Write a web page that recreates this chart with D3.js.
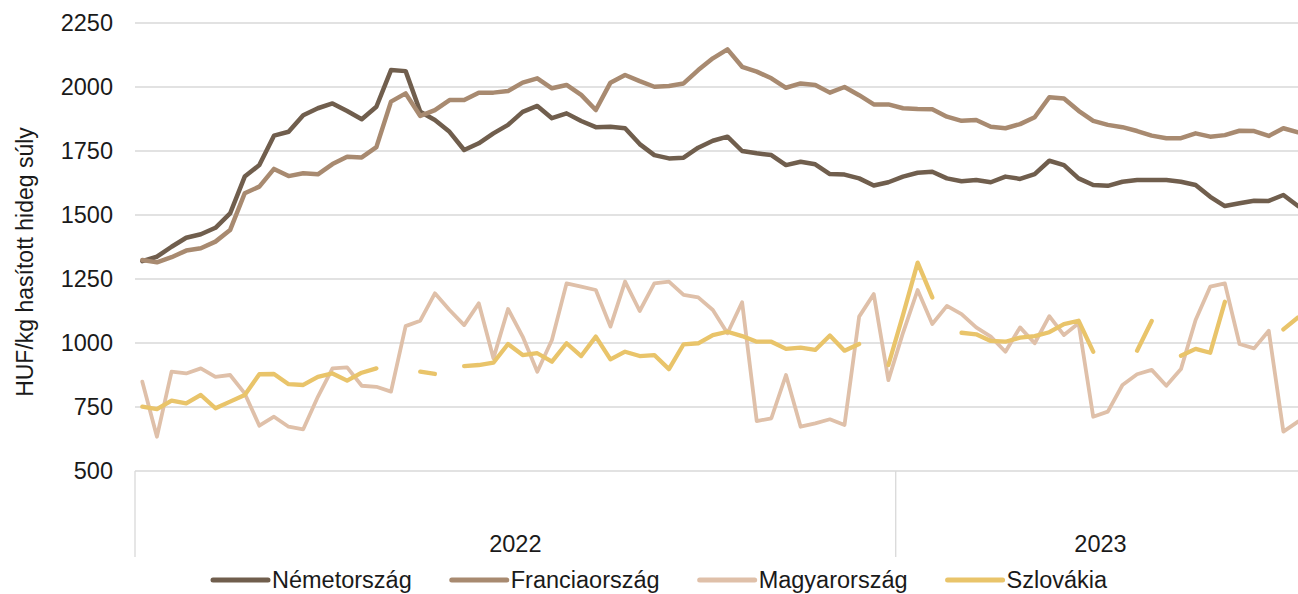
<!DOCTYPE html>
<html><head><meta charset="utf-8">
<script src="https://cdn.jsdelivr.net/npm/d3@7"></script>
<style>
body{margin:0;background:#fff;}
svg{display:block;font-family:Arial,"Liberation Sans",sans-serif;}
</style>
</head><body>
<svg id="chart" width="1298" height="594"></svg>
<script>
// ---- data ----
const years = ["2022", "2023"];
const weeksPerYear = [52, 28];
const yTicks = [500, 750, 1000, 1250, 1500, 1750, 2000, 2250];
const seriesNames = ["Németország", "Franciaország", "Magyarország", "Szlovákia"];
const yTitle = "HUF/kg hasított hideg súly";

const germany = [1320,1337,1376,1411,1425,1450,1506,1650,1695,1810,1825,1890,1917,1936,1906,1874,
  1923,2066,2062,1903,1871,1825,1754,1780,1819,1852,1903,1926,1878,1897,1867,1843,
  1845,1839,1777,1734,1721,1724,1763,1790,1806,1750,1741,1734,1695,1708,1698,1660,
  1658,1643,1615,1628,1650,1665,1669,1643,1632,1637,1628,1650,1641,1660,1712,1695,
  1643,1617,1614,1630,1637,1637,1637,1630,1617,1571,1535,1546,1556,1555,1578,1535];
const france = [1324,1315,1335,1361,1370,1396,1441,1585,1611,1680,1652,1663,1659,1699,1728,1725,
  1765,1943,1975,1887,1910,1949,1949,1978,1978,1984,2017,2034,1995,2008,1969,1910,
  2017,2047,2023,2001,2004,2014,2066,2112,2147,2079,2060,2034,1997,2014,2008,1978,
  2000,1968,1932,1932,1917,1914,1913,1884,1868,1871,1845,1839,1855,1882,1960,1955,
  1907,1868,1852,1843,1828,1810,1800,1800,1819,1806,1812,1829,1828,1809,1839,1823];
const hungary = [849,634,888,881,901,868,875,803,677,712,673,663,790,901,905,833,
  829,810,1066,1087,1194,1129,1070,1155,940,1133,1025,888,1012,1233,1220,1207,
  1064,1240,1125,1233,1240,1188,1178,1129,1038,1159,695,706,875,673,686,702,
  680,1103,1191,855,1040,1207,1074,1145,1113,1061,1025,966,1061,999,1105,1031,
  1077,712,732,836,878,895,833,898,1090,1220,1233,996,979,1048,654,693];
const slovakia = [751,742,775,764,797,745,771,797,878,879,839,836,868,881,853,884,
  901,null,null,888,879,null,910,914,923,996,953,960,927,999,949,1025,
  936,966,949,953,898,995,999,1031,1044,1027,1005,1005,977,982,973,1029,
  970,996,null,914,1110,1314,1178,null,1040,1034,1008,1005,1021,1027,1042,1074,
  1087,966,null,null,970,1086,null,950,977,962,1161,null,null,null,1053,1100];

const colors = ["#705e4d", "#a88a70", "#dfc0a9", "#e9c46a"];
const widths = [4.5, 4.5, 3.8, 4.3];

// ---- layout ----
const FS = 23.5;
const left = 135, step = 14.629;
const weeks = years.flatMap((y, i) => d3.range(1, weeksPerYear[i] + 1).map(w => y + "-" + w));
const right = left + step * weeks.length;
const x = d3.scaleBand().domain(weeks).range([left, right]).padding(0);
const y = d3.scaleLinear().domain([500, 2250]).range([471, 23]);
const cx = i => x(weeks[i]) + x.bandwidth() / 2;

const svg = d3.select("#chart");

// gridlines
svg.append("g").selectAll("line").data(yTicks).join("line")
  .attr("x1", left).attr("x2", right)
  .attr("y1", d => y(d)).attr("y2", d => y(d))
  .attr("stroke", "#d9d9d9").attr("stroke-width", 1.3);

// y axis labels
const yAxis = svg.append("g").attr("transform", `translate(${left - 22},0)`)
  .call(d3.axisLeft(y).tickValues(yTicks).tickSize(0).tickFormat(d3.format("d")));
yAxis.select(".domain").remove();
yAxis.selectAll("text").attr("font-size", FS).attr("fill", "#1a1a1a")
  .attr("font-family", "Arial, 'Liberation Sans', sans-serif").attr("x", 0);

// y title
svg.append("text").attr("transform", `translate(33,262) rotate(-90)`)
  .attr("text-anchor", "middle").attr("font-size", 23).attr("fill", "#1a1a1a").text(yTitle);

// category group separators and year labels
let acc = 0;
const bounds = [left];
weeksPerYear.forEach(n => { acc += n; bounds.push(x(weeks[acc - 1]) + x.bandwidth()); });
svg.append("g").selectAll("line").data(bounds).join("line")
  .attr("x1", d => d).attr("x2", d => d).attr("y1", y(500)).attr("y2", 557)
  .attr("stroke", "#d9d9d9").attr("stroke-width", 1.3);
svg.append("g").selectAll("text").data(years).join("text")
  .attr("x", (d, i) => (bounds[i] + bounds[i + 1]) / 2).attr("y", 552)
  .attr("text-anchor", "middle").attr("font-size", FS).attr("fill", "#1a1a1a").text(d => d);

// lines
const allSeries = [germany, france, hungary, slovakia];
const line = d3.line().defined(d => d != null).x((d, i) => cx(i)).y(d => y(d));
allSeries.forEach((s, k) => {
  svg.append("path").datum(s).attr("d", line)
    .attr("fill", "none").attr("stroke", colors[k]).attr("stroke-width", widths[k])
    .attr("stroke-linejoin", "round").attr("stroke-linecap", "round");
});

// legend
const lg = svg.append("g");
let lx = 213;
seriesNames.forEach((n, k) => {
  lg.append("line").attr("x1", lx).attr("x2", lx + 55).attr("y1", 580).attr("y2", 580)
    .attr("stroke", colors[k]).attr("stroke-width", 5).attr("stroke-linecap", "round");
  const t = lg.append("text").attr("x", lx + 59).attr("y", 588).attr("font-size", FS)
    .attr("fill", "#1a1a1a").text(n);
  lx += 59 + t.node().getComputedTextLength() + 40;
});
</script>
</body></html>
